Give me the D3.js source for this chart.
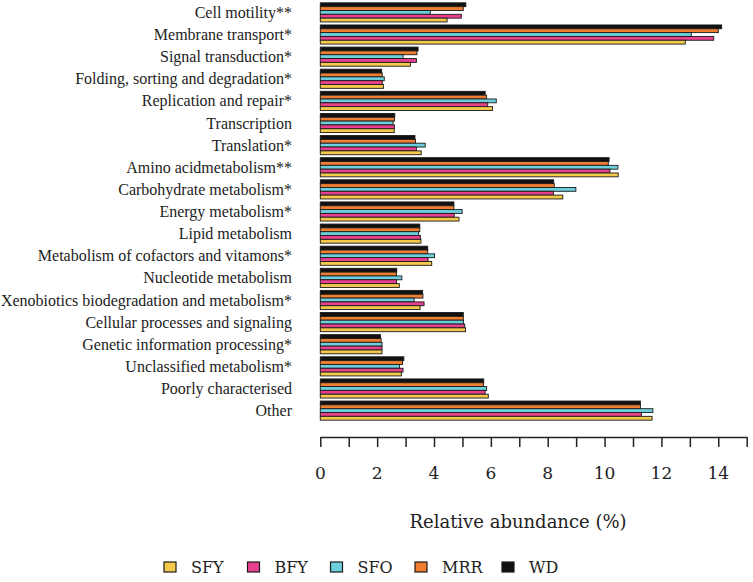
<!DOCTYPE html>
<html>
<head>
<meta charset="utf-8">
<script src="https://cdn.jsdelivr.net/npm/d3@7"></script>
<style>
  html, body { margin: 0; padding: 0; background: #fff; }
  svg { display: block; }
</style>
</head>
<body>
<svg id="chart" width="753" height="582"></svg>
<script>
const categories = [
  "Cell motility**",
  "Membrane transport*",
  "Signal transduction*",
  "Folding, sorting and degradation*",
  "Replication and repair*",
  "Transcription",
  "Translation*",
  "Amino acidmetabolism**",
  "Carbohydrate metabolism*",
  "Energy metabolism*",
  "Lipid metabolism",
  "Metabolism of cofactors and vitamons*",
  "Nucleotide metabolism",
  "Xenobiotics biodegradation and metabolism*",
  "Cellular processes and signaling",
  "Genetic information processing*",
  "Unclassified metabolism*",
  "Poorly characterised",
  "Other"
];
const seriesNames = ["SFY", "BFY", "SFO", "MRR", "WD"];
const SFY = [4.46, 12.84, 3.17, 2.22, 6.06, 2.60, 3.55, 10.48, 8.53, 4.88, 3.54, 3.92, 2.78, 3.51, 5.11, 2.17, 2.85, 5.91, 11.67];
const BFY = [4.96, 13.84, 3.38, 2.18, 5.89, 2.61, 3.38, 10.19, 8.20, 4.71, 3.52, 3.79, 2.68, 3.65, 5.08, 2.17, 2.91, 5.80, 11.30];
const SFO = [3.87, 13.05, 2.91, 2.25, 6.19, 2.56, 3.69, 10.47, 8.99, 4.99, 3.46, 4.02, 2.87, 3.30, 5.04, 2.17, 2.79, 5.85, 11.70];
const MRR = [5.03, 14.00, 3.40, 2.18, 5.85, 2.61, 3.35, 10.13, 8.23, 4.70, 3.50, 3.78, 2.68, 3.61, 5.03, 2.14, 2.89, 5.74, 11.26];
const WD  = [5.12, 14.12, 3.44, 2.16, 5.80, 2.62, 3.33, 10.16, 8.21, 4.70, 3.50, 3.78, 2.69, 3.60, 5.03, 2.12, 2.94, 5.75, 11.26];
const xTicks = [0,1,2,3,4,5,6,7,8,9,10,11,12,13,14,15];
const xLabels = [0, 2, 4, 6, 8, 10, 12, 14];
const colors = { SFY: "#F4C84A", BFY: "#E8408F", SFO: "#6DCFDC", MRR: "#F07E30", WD: "#111111" };

const seriesData = { SFY, BFY, SFO, MRR, WD };
const drawOrder = ["WD", "MRR", "SFO", "BFY", "SFY"]; // top to bottom within group

const svg = d3.select("#chart");
const x = d3.scaleLinear().domain([0, 15]).range([320.3, 746.7]);
const y = d3.scaleBand().domain(categories).range([1.5, 421.5]).paddingInner(0.135).paddingOuter(0.06);
const yi = d3.scaleBand().domain(drawOrder).range([0, y.bandwidth()]).padding(0);

const g = svg.append("g");
categories.forEach((c, i) => {
  const grp = g.append("g").attr("transform", `translate(0,${y(c)})`);
  drawOrder.forEach(s => {
    grp.append("rect")
      .attr("x", x(0))
      .attr("y", yi(s))
      .attr("width", x(seriesData[s][i]) - x(0))
      .attr("height", yi.bandwidth())
      .attr("fill", colors[s])
      .attr("stroke", "#1a1a1a")
      .attr("stroke-width", 0.9);
  });
});

// category labels
svg.append("g").selectAll("text").data(categories).join("text")
  .attr("x", 292)
  .attr("y", d => y(d) + y.bandwidth() / 2)
  .attr("dy", "0.35em")
  .attr("text-anchor", "end")
  .style("font-family", "'Liberation Serif', 'Times New Roman', serif")
  .attr("font-size", 16)
  .attr("fill", "#222")
  .text(d => d);

// x axis
const axis = d3.axisBottom(x).tickValues(xTicks).tickSize(10).tickSizeOuter(0).tickFormat(() => "");
const ax = svg.append("g").attr("transform", "translate(0,437)").call(axis);
ax.select(".domain").attr("stroke", "#222").attr("stroke-width", 1.5);
ax.selectAll(".tick line").attr("stroke", "#222").attr("stroke-width", 1.5);

svg.append("g").selectAll("text").data(xLabels).join("text")
  .attr("x", d => x(d))
  .attr("y", 479)
  .attr("text-anchor", "middle")
  .style("font-family", "'DejaVu Serif', serif")
  .attr("font-size", 17)
  .attr("fill", "#222")
  .text(d => d);

svg.append("text")
  .attr("x", 518)
  .attr("y", 528)
  .attr("text-anchor", "middle")
  .style("font-family", "'DejaVu Serif', serif")
  .attr("font-size", 18)
  .attr("fill", "#222")
  .text("Relative abundance (%)");

// legend
const legendX = [164, 247.5, 330.5, 415, 502];
const lg = svg.append("g");
seriesNames.forEach((s, i) => {
  lg.append("rect")
    .attr("x", legendX[i]).attr("y", 562)
    .attr("width", 12).attr("height", 10)
    .attr("fill", colors[s]).attr("stroke", "#1a1a1a").attr("stroke-width", 1.2);
  lg.append("text")
    .attr("x", legendX[i] + 27).attr("y", 573)
    .style("font-family", "'DejaVu Serif', serif")
    .attr("font-size", 16)
    .attr("fill", "#222")
    .text(s);
});
</script>
</body>
</html>
